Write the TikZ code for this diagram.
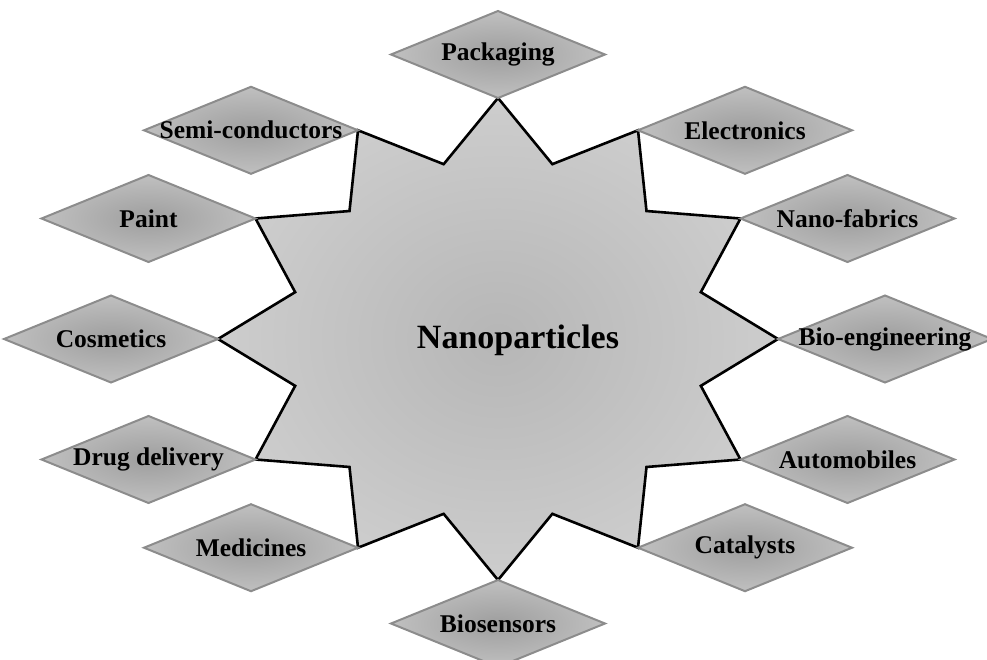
\documentclass[tikz,border=0pt]{standalone}
\usepackage{fontspec}
\setmainfont{Liberation Serif}
\usetikzlibrary{shapes.geometric}
\definecolor{starin}{RGB}{182,182,182}
\definecolor{starout}{RGB}{228,228,228}
\definecolor{diain}{RGB}{158,158,158}
\definecolor{diaout}{RGB}{212,212,212}
\definecolor{diaedge}{RGB}{140,140,140}
\pgfdeclareradialshading{starshade}{\pgfpoint{0bp}{0bp}}{color(0bp)=(starin); color(50bp)=(starout)}
\pgfdeclareradialshading{diashade}{\pgfpoint{0bp}{0bp}}{color(0bp)=(diain); color(40bp)=(diaout); color(50bp)=(diaout)}
\tikzset{
  dia/.style={diamond, shading=diashade, draw=diaedge, line width=2pt,
    minimum width=214pt, minimum height=87pt, inner sep=0pt, outer sep=0pt,
    font=\fontsize{25.5}{28}\selectfont\bfseries},
  starline/.style={draw=black, line width=2.6pt, line join=miter, shading=starshade},
  title/.style={font=\fontsize{34}{38}\selectfont\bfseries}
}
\begin{document}
\begin{tikzpicture}[x=1pt,y=-1pt]
\useasboundingbox (0,0) rectangle (987,659);
\begin{scope}[shift={(498,339)}]
  \path[starline] (0:280 and 241)
    \foreach \a in {0,30,...,330} { -- ({\a+15}:210 and 181) -- ({\a+30}:280 and 241) } -- cycle;
  \foreach \a/\n in {0/pbio,30/pauto,60/pcat,90/pbios,120/pmed,150/pdrug,180/pcos,210/ppaint,240/psemi,270/ppack,300/pelec,330/pnano}
    \coordinate (\n) at (\a:280 and 241);
  \node[title] (nano) at (20,1) {Nanoparticles};
\end{scope}
\node[dia, anchor=south] (pack) at (ppack) {\makebox[0pt]{Packaging}};
\node[dia, anchor=west] (elec) at (pelec) {\makebox[0pt]{Electronics}};
\node[dia, anchor=west] (nanof) at (pnano) {\makebox[0pt]{Nano-fabrics}};
\node[dia, anchor=west] (bio) at (pbio) {\makebox[0pt]{Bio-engineering}};
\node[dia, anchor=west] (auto) at (pauto) {\makebox[0pt]{Automobiles}};
\node[dia, anchor=west] (cat) at (pcat) {\makebox[0pt]{Catalysts}};
\node[dia, anchor=north] (bios) at (pbios) {\makebox[0pt]{Biosensors}};
\node[dia, anchor=east] (med) at (pmed) {\makebox[0pt]{Medicines}};
\node[dia, anchor=east] (drug) at (pdrug) {\makebox[0pt]{Drug delivery}};
\node[dia, anchor=east] (cos) at (pcos) {\makebox[0pt]{Cosmetics}};
\node[dia, anchor=east] (paint) at (ppaint) {\makebox[0pt]{Paint}};
\node[dia, anchor=east] (semi) at (psemi) {\makebox[0pt]{Semi-conductors}};
\end{tikzpicture}
\end{document}
